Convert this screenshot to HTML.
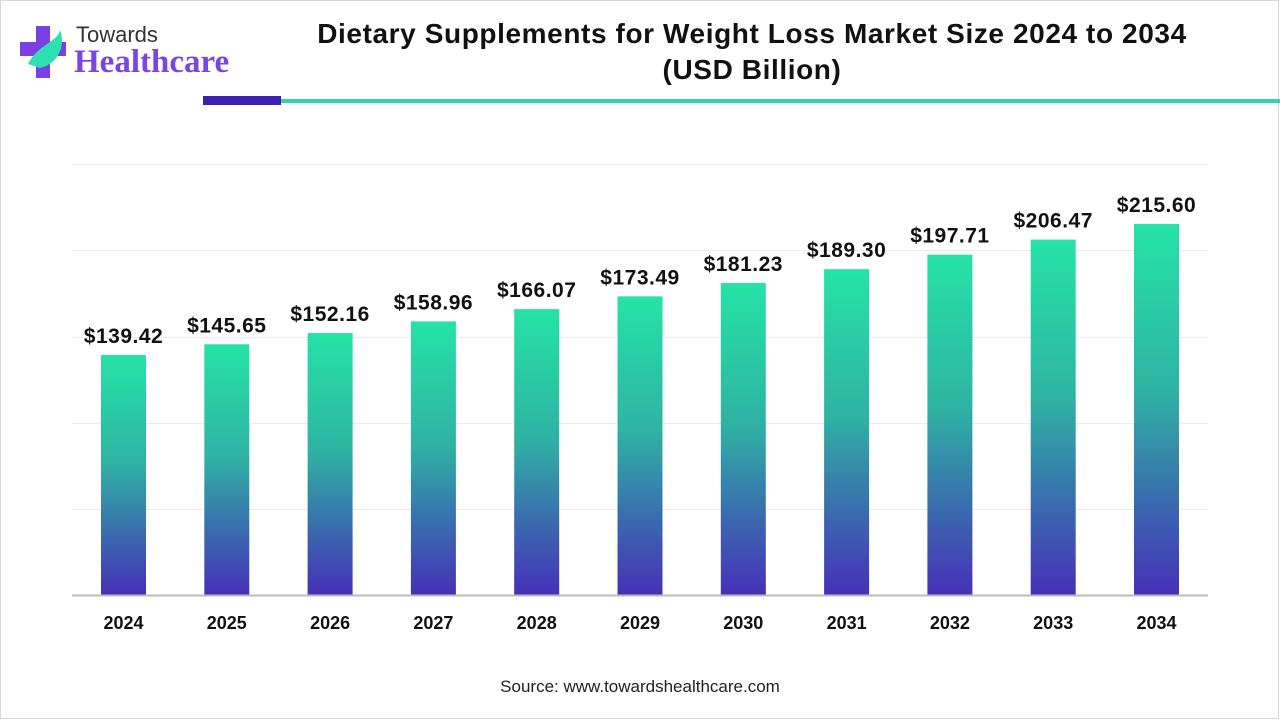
<!DOCTYPE html>
<html><head><meta charset="utf-8"><style>
body{margin:0;width:1280px;height:720px;background:#fff;font-family:"Liberation Sans",sans-serif;position:relative;overflow:hidden}
.t{position:absolute;left:250px;width:1004px;text-align:center;font-weight:bold;font-size:28px;letter-spacing:0.6px;color:#111;line-height:36px;top:16px}
</style></head><body>
<div style="position:absolute;left:0;top:0;width:1279px;height:719px;border:1px solid #d8d8d8;box-sizing:border-box"></div>
<svg style="position:absolute;left:18px;top:24px" width="60" height="56" viewBox="0 0 60 56">
<path d="M18 2h14v16h16v14H32v22H18V32H2V18h16z" fill="#7b3fe4"/>
<path d="M10 40 C20 20 40 18 42 6 C48 22 40 40 22 44 Z" fill="#2ee0b0"/>
</svg>
<div style="position:absolute;left:76px;top:22px;font-size:22px;color:#333">Towards</div>
<div style="position:absolute;left:74px;top:44px;font-size:33px;font-weight:bold;color:#7b45e0;font-family:'Liberation Serif',serif">Healthcare</div>
<div class="t">Dietary Supplements for Weight Loss Market Size 2024 to 2034<br>(USD Billion)</div>
<div style="position:absolute;left:203px;top:96px;width:78px;height:9px;background:#3a1fb0"></div>
<div style="position:absolute;left:281px;top:99px;width:999px;height:4px;background:#2ed3b0"></div>
<svg style="position:absolute;left:0;top:0" width="1280" height="720">
<defs><linearGradient id="g" x1="0" y1="0" x2="0" y2="1"><stop offset="0" stop-color="#25e3a6"/><stop offset="0.45" stop-color="#2fb3a4"/><stop offset="0.75" stop-color="#3a6aae"/><stop offset="1" stop-color="#4630b8"/></linearGradient></defs>
<g stroke="#ececec" stroke-width="1">
<line x1="72" x2="1208" y1="164.5" y2="164.5"/><line x1="72" x2="1208" y1="250.5" y2="250.5"/><line x1="72" x2="1208" y1="337.5" y2="337.5"/><line x1="72" x2="1208" y1="423.5" y2="423.5"/><line x1="72" x2="1208" y1="509.5" y2="509.5"/>
</g>
<g id="bars" font-family="Liberation Sans, sans-serif" font-weight="bold" text-anchor="middle" fill="#111"></g>
<line x1="72" x2="1208" y1="595.5" y2="595.5" stroke="#bbb" stroke-width="2"/>
<text x="640" y="692" text-anchor="middle" font-size="17" fill="#222" font-family="Liberation Sans, sans-serif">Source: www.towardshealthcare.com</text>
</svg>
<script>
var v=[139.42,145.65,152.16,158.96,166.07,173.49,181.23,189.30,197.71,206.47,215.60];
var g=document.getElementById('bars'),s='';
v.forEach(function(d,i){var c=123.5+i*103.3,h=d*1.7214,t=595-h;
s+='<rect x="'+(c-22.5)+'" y="'+t+'" width="45" height="'+h+'" fill="url(#g)"/>';
s+='<text x="'+c+'" y="'+(t-12)+'" font-size="21" letter-spacing="0.5">$'+d.toFixed(2)+'</text>';
s+='<text x="'+c+'" y="629" font-size="18">'+(2024+i)+'</text>';});
g.innerHTML=s;
</script>
</body></html>
